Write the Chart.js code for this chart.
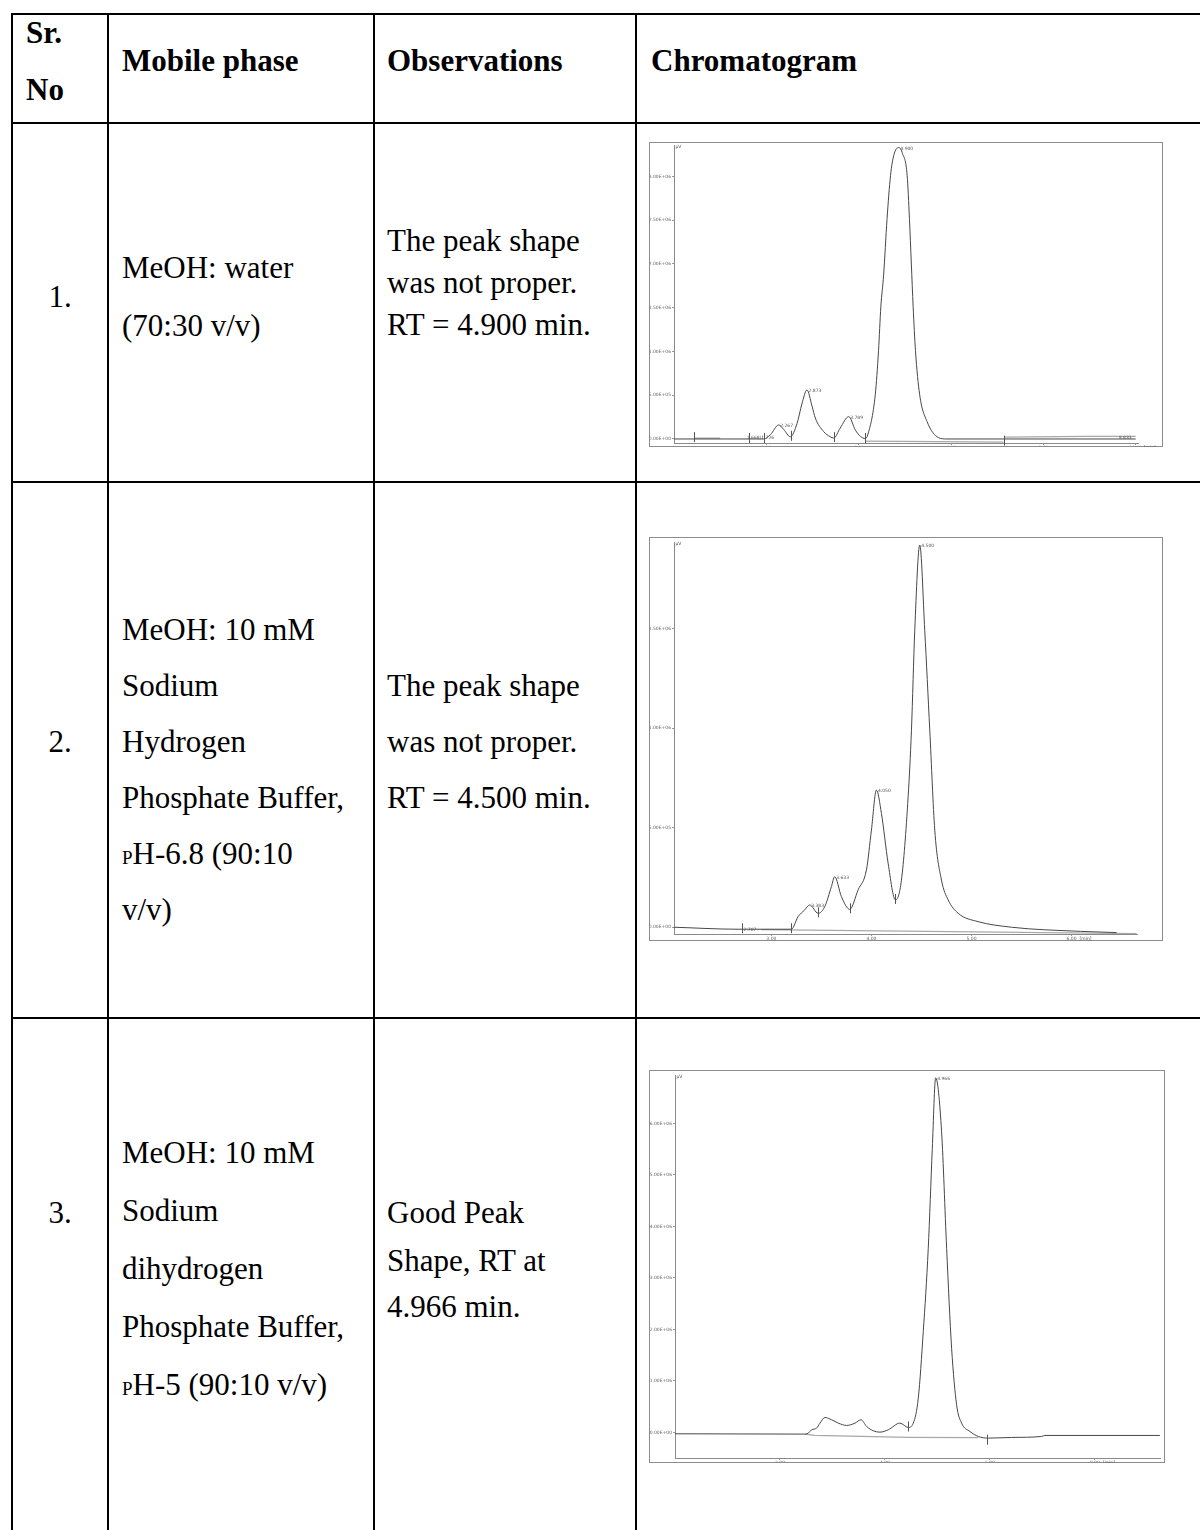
<!DOCTYPE html>
<html><head><meta charset="utf-8">
<script src="https://cdn.jsdelivr.net/npm/chart.js@4"></script>
<style>
html,body{margin:0;padding:0;background:#fff;}
#page{position:relative;width:1200px;height:1530px;overflow:hidden;font-family:'Liberation Serif','Times New Roman',serif;color:#000;}
.h{position:absolute;height:2px;background:#000;}
.v{position:absolute;width:2px;background:#000;}
.t{position:absolute;font-size:31px;line-height:36px;white-space:nowrap;}
.b{font-weight:bold;}
.sc{font-size:19px;}
canvas{position:absolute;}
</style></head><body><div id="page"></div>
<script>
// ---------- table text ----------
const headerCells = ["Sr.", "No", "Mobile phase", "Observations", "Chromatogram"];
const rowNumbers = ["1.", "2.", "3."];
const mobilePhase1 = ["MeOH: water", "(70:30 v/v)"];
const mobilePhase2 = ["MeOH: 10 mM", "Sodium", "Hydrogen", "Phosphate Buffer,", "<span class='sc'>P</span>H-6.8 (90:10", "v/v)"];
const mobilePhase3 = ["MeOH: 10 mM", "Sodium", "dihydrogen", "Phosphate Buffer,", "<span class='sc'>P</span>H-5 (90:10 v/v)"];
const observations1 = ["The peak shape", "was not proper.", "RT = 4.900 min."];
const observations2 = ["The peak shape", "was not proper.", "RT = 4.500 min."];
const observations3 = ["Good Peak", "Shape, RT at", "4.966 min."];

// ---------- chromatogram 1 ----------
const times1 = [0,1.94,2.09,2.267,2.375,2.52,2.664,2.77,2.881,2.99,3.06,3.24,3.386,3.46,3.60,3.783,3.93,4.036,4.144,4.195,4.36,4.43,4.48,4.54,4.614,4.69,4.76,4.87,4.95,5.05,5.10,5.14,5.18,5.23,5.32,5.48,5.73,5.91,10.0];
const signal1 = [0,0,0.5,1.6,1.1,0.25,1.75,4.0,5.6,3.75,2.4,0.85,0.25,0.1,1.25,2.55,1.0,0.3,0.05,0.45,5.1,10.1,15.1,18.7,25.1,30.1,32.4,33.3,32.6,30.1,25.1,20.1,15.1,10.1,5.1,2.0,0.15,0,0];
const baseTimes1 = [0.43,1.0,1.0,4.144,7.14,7.14,7.16,8.9,10.0];
const baseSignal1 = [0.1,0.1,null,-0.25,-0.35,null,0.2,0.3,0.3];
const yTickValues1 = [0,5,10,15,20,25,30];
const yTickLabels1 = ["0.00E+00","5.00E+05","1.00E+06","1.50E+06","2.00E+06","2.50E+06","3.00E+06"];
const xTickValues1 = [2,4,6,8,10];
const xTickLabels1 = ["2.00","4.00","6.00","8.00","10.00"];
const peakTimes1 = [1.545,2.267,2.881,3.783,4.87,9.6];
const peakHeights1 = [0.3,1.6,5.6,2.55,33.3,0.3];
const peakLabels1 = ["1.668/1.726","2.267","2.873","3.789","4.900","9.833"];
const markTimes1 = [0.43,1.62,1.94,2.54,3.46,4.13,7.14];
const markHeights1 = [0.1,0,0,0.25,0.1,0,-0.3];

// ---------- chromatogram 2 ----------
const times2 = [2.027,2.667,3.2,3.267,3.333,3.383,3.467,3.533,3.6,3.633,3.7,3.783,3.867,3.95,4.0,4.05,4.1,4.167,4.24,4.3,4.367,4.4,4.433,4.483,4.533,4.583,4.633,4.7,4.767,4.867,5.067,5.4,5.733,6.45];
const signal2 = [0,-0.1,-0.1,0.53,0.87,1.12,0.7,1.03,2.04,2.54,1.54,0.9,1.88,2.88,4.88,6.89,5.72,3.21,1.37,2.37,6.56,9.9,14.9,19.2,14.9,9.9,4.88,2.37,1.37,0.7,0.28,0,-0.13,-0.27];
const baseTimes2 = [2.9,6.65];
const baseSignal2 = [-0.12,-0.32];
const yTickValues2 = [0,5,10,15];
const yTickLabels2 = ["0.00E+00","5.00E+05","1.00E+06","1.50E+06"];
const xTickValues2 = [3,4,5,6];
const xTickLabels2 = ["3.00","4.00","5.00","6.00"];
const peakTimes2 = [2.707,3.383,3.633,4.05,4.483];
const peakHeights2 = [-0.1,1.12,2.54,6.89,19.2];
const peakLabels2 = ["2.707","3.383","3.633","4.050","4.500"];
const markTimes2 = [2.707,3.2,3.467,3.783,4.24];
const markHeights2 = [-0.1,-0.1,0.7,0.9,1.37];

// ---------- chromatogram 3 ----------
const times3 = [0,2.476,2.54,2.603,2.698,2.762,2.857,2.984,3.111,3.27,3.429,3.543,3.651,3.778,3.905,4.063,4.286,4.444,4.54,4.635,4.73,4.825,4.902,4.966,5.079,5.175,5.27,5.365,5.46,5.619,5.778,5.968,6.413,6.984,7.048,9.238];
const signal3 = [-0.26,-0.32,-0.13,0.52,0.84,1.81,2.91,2.46,1.81,1.36,1.81,2.46,1.16,0.32,0.06,0.52,1.81,0.97,1.81,6.66,19.59,35.75,55.14,68.84,58.37,35.75,16.35,5.37,1.81,0.19,-0.78,-1.1,-0.97,-0.78,-0.58,-0.58];
const baseTimes3 = [2.476,2.667,4.444,5.778];
const baseSignal3 = [-0.32,-0.58,-0.97,-1.0];
const yTickValues3 = [0,10,20,30,40,50,60];
const yTickLabels3 = ["0.00E+00","1.00E+06","2.00E+06","3.00E+06","4.00E+06","5.00E+06","6.00E+06"];
const xTickValues3 = [2,4,6,8];
const xTickLabels3 = ["2.00","4.00","6.00","8.00"];
const peakTimes3 = [4.966];
const peakHeights3 = [68.84];
const peakLabels3 = ["4.966"];
const markTimes3 = [4.444,5.937];
const markHeights3 = [0.97,-1.6];

// ---------- build table ----------
const page = document.getElementById('page');
function add(html){ page.insertAdjacentHTML('beforeend', html); }
function hl(y,x1,x2){ add(`<div class="h" style="top:${y}px;left:${x1}px;width:${x2-x1}px"></div>`); }
function vl(x,y1,y2){ add(`<div class="v" style="left:${x}px;top:${y1}px;height:${y2-y1}px"></div>`); }
function txt(s,x,cy,bold,center){
  const st = center ? `left:${x-100}px;width:200px;text-align:center;` : `left:${x}px;`;
  add(`<div class="t${bold?' b':''}" style="${st}top:${cy-18}px">${s}</div>`);
}
hl(13,11,1200); hl(122,11,1200); hl(481,11,1200); hl(1017,11,1200);
[11,107,373,635].forEach(x=>vl(x,13,1530));

txt(headerCells[0],26,33,true); txt(headerCells[1],26,90,true);
txt(headerCells[2],122,61,true); txt(headerCells[3],387,61,true); txt(headerCells[4],651,61,true);

txt(rowNumbers[0],60,297,false,true);
txt(rowNumbers[1],60,742,false,true);
txt(rowNumbers[2],60,1213,false,true);
[268,326].forEach((y,i)=>txt(mobilePhase1[i],122,y));
[630,686,742,798,854,910].forEach((y,i)=>txt(mobilePhase2[i],122,y));
[1153,1211,1269,1327,1385].forEach((y,i)=>txt(mobilePhase3[i],122,y));
[241,283,325].forEach((y,i)=>txt(observations1[i],387,y));
[686,742,798].forEach((y,i)=>txt(observations2[i],387,y));
[1213,1261,1307].forEach((y,i)=>txt(observations3[i],387,y));

// ---------- charts ----------
const overlay = {
  id:'overlay',
  afterDatasetsDraw(chart){
    const o = chart.options.plugins.overlay;
    const c = chart.ctx, xs = chart.scales.x, ys = chart.scales.y, a = chart.chartArea;
    c.save();
    // frame
    c.strokeStyle = '#8c8c8c'; c.lineWidth = 1;
    c.strokeRect(0.5,0.5,chart.width-1,chart.height-1);
    // integration markers
    c.strokeStyle = '#555';
    o.markT.forEach((t,i)=>{
      const px = Math.round(xs.getPixelForValue(t))+0.5, py = ys.getPixelForValue(o.markY[i]);
      c.beginPath(); c.moveTo(px,py-6); c.lineTo(px,py+4); c.stroke();
    });
    // peak labels
    c.fillStyle = '#555'; c.font = '4.5px "DejaVu Sans"'; c.textBaseline = 'middle'; c.textAlign = 'left';
    o.peakT.forEach((t,i)=>{
      c.fillText(o.peakL[i], xs.getPixelForValue(t)+1.5, ys.getPixelForValue(o.peakY[i])+1);
    });
    // units
    c.fillText('µV', a.left+1.5, a.top+1.5);
    c.textBaseline = 'top'; c.textAlign = 'center';
    c.fillText('[min]', xs.getPixelForValue(o.lastTick)+14, a.bottom+2.5);
    c.restore();
  }
};

function build(o){
  const cv = document.createElement('canvas');
  cv.width = o.w; cv.height = o.h;
  cv.style.left = o.left+'px'; cv.style.top = o.top+'px';
  page.appendChild(cv);
  new Chart(cv, {
    type:'scatter',
    data:{datasets:[
      {data:o.t.map((x,i)=>({x, y:o.s[i]})), showLine:true, borderColor:'#474747', borderWidth:1, pointRadius:0, cubicInterpolationMode:'monotone', order:1},
      {data:o.bt.map((x,i)=>({x, y:o.bs[i]})), showLine:true, spanGaps:false, borderColor:'#a8a8a8', borderWidth:1.2, pointRadius:0, order:2}
    ]},
    options:{
      responsive:false, animation:false, events:[],
      layout:{padding:{top:o.padTop,right:o.padRight,left:0,bottom:0}},
      plugins:{legend:{display:false}, tooltip:{enabled:false},
        overlay:{markT:o.mt, markY:o.my, peakT:o.pt, peakY:o.py, peakL:o.pl, lastTick:o.xt[o.xt.length-1]}},
      scales:{
        x:{type:'linear', min:o.xMin, max:o.xMax,
          afterBuildTicks:a=>{a.ticks=o.xt.map(v=>({value:v}));},
          afterFit:a=>{a.height=o.xAxisH;},
          ticks:{callback:(v,i)=>o.xl[i], font:{size:4.5,family:'DejaVu Sans'}, color:'#666', padding:0, maxRotation:0, autoSkip:false},
          grid:{display:true, drawOnChartArea:false, drawTicks:true, tickLength:2, color:'#999'},
          border:{display:true, color:'#8a8a8a', width:1}},
        y:{type:'linear', min:o.yMin, max:o.yMax,
          afterBuildTicks:a=>{a.ticks=o.yt.map(v=>({value:v}));},
          afterFit:a=>{a.width=o.yAxisW;},
          ticks:{callback:(v,i)=>o.yl[i], font:{size:4.5,family:'DejaVu Sans'}, color:'#666', padding:1, autoSkip:false},
          grid:{display:true, drawOnChartArea:false, drawTicks:true, tickLength:2, color:'#999'},
          border:{display:true, color:'#8a8a8a', width:1}}
      }
    },
    plugins:[overlay]
  });
}

build({left:649, top:142, w:514, h:305, padTop:3, padRight:25, yAxisW:25, xAxisH:4,
  xMin:0, xMax:10.05, yMin:-0.46, yMax:33.5,
  t:times1, s:signal1, bt:baseTimes1, bs:baseSignal1,
  yt:yTickValues1, yl:yTickLabels1, xt:xTickValues1, xl:xTickLabels1,
  pt:peakTimes1, py:peakHeights1, pl:peakLabels1, mt:markTimes1, my:markHeights1});

build({left:649, top:537, w:514, h:404, padTop:5, padRight:26, yAxisW:25, xAxisH:7,
  xMin:2.027, xMax:6.654, yMin:-0.34, yMax:19.35,
  t:times2, s:signal2, bt:baseTimes2, bs:baseSignal2,
  yt:yTickValues2, yl:yTickLabels2, xt:xTickValues2, xl:xTickLabels2,
  pt:peakTimes2, py:peakHeights2, pl:peakLabels2, mt:markTimes2, my:markHeights2});

build({left:649, top:1070, w:516, h:393, padTop:5, padRight:5, yAxisW:26, xAxisH:5,
  xMin:0, xMax:9.24, yMin:-4.96, yMax:69.4,
  t:times3, s:signal3, bt:baseTimes3, bs:baseSignal3,
  yt:yTickValues3, yl:yTickLabels3, xt:xTickValues3, xl:xTickLabels3,
  pt:peakTimes3, py:peakHeights3, pl:peakLabels3, mt:markTimes3, my:markHeights3});
</script>
</body></html>
